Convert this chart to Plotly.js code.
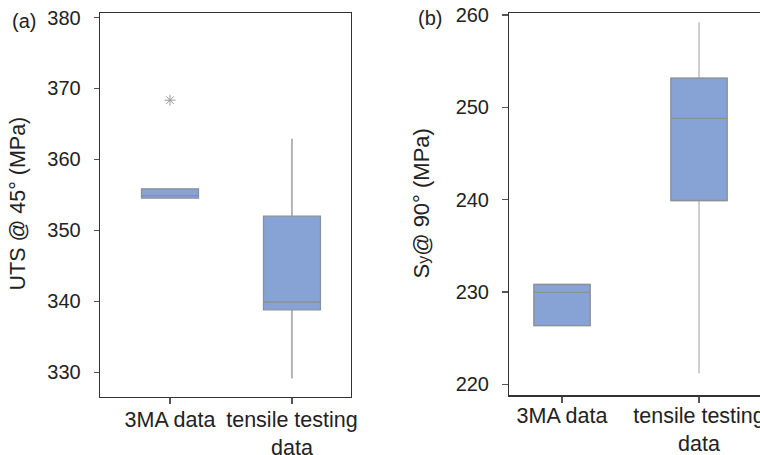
<!DOCTYPE html>
<html>
<head>
<meta charset="utf-8">
<script src="https://cdn.plot.ly/plotly-3.0.1.min.js"></script>
<style>html,body{margin:0;padding:0;background:#fff;}#chart{width:760px;height:455px;}</style>
</head>
<body>
<div id="chart"></div>
<script>
// Categories / tick labels
const categories = ['3MA data', 'tensile testing<br>data'];
const catPos = [0, 1];

// Panel (a): UTS @ 45° (MPa)
const utsQ1 = [354.55, 338.8];
const utsMedian = [354.9, 339.9];
const utsQ3 = [355.85, 352.0];
const utsLower = [354.55, 329.1];
const utsUpper = [355.85, 362.9];
const utsOutlierX = [0];
const utsOutlierY = [368.35];
const utsTicks = [330, 340, 350, 360, 370, 380];

// Panel (b): Sy @ 90° (MPa)
const syQ1 = [226.35, 239.9];
const syMedian = [229.95, 248.8];
const syQ3 = [230.8, 253.15];
const syLower = [226.35, 221.2];
const syUpper = [230.8, 259.2];
const syTicks = [220, 230, 240, 250, 260];

const FONT = 'Arial, "Liberation Sans", sans-serif';
const fill = '#87a3d6';
const boxLine = '#8a9099';

const traces = [
  {type: 'box', x: catPos, q1: utsQ1, median: utsMedian, q3: utsQ3,
   lowerfence: utsLower, upperfence: utsUpper, width: 0.467,
   fillcolor: fill, line: {color: boxLine, width: 1.3}, whiskerwidth: 0,
   boxpoints: false, xaxis: 'x', yaxis: 'y', hoverinfo: 'skip', showlegend: false},
  {type: 'scatter', mode: 'markers', x: utsOutlierX, y: utsOutlierY,
   marker: {symbol: 'asterisk-open', size: 9, color: '#999', line: {color: '#999', width: 1}},
   xaxis: 'x', yaxis: 'y', hoverinfo: 'skip', showlegend: false},
  // panel b: whiskers (lighter) then box outline
  {type: 'box', x: catPos, q1: syQ1, median: syMedian, q3: syQ3,
   lowerfence: syLower, upperfence: syUpper, width: 0.41,
   fillcolor: fill, line: {color: '#bdbdbd', width: 1.5}, whiskerwidth: 0,
   boxpoints: false, xaxis: 'x2', yaxis: 'y2', hoverinfo: 'skip', showlegend: false},
  {type: 'box', x: catPos, q1: syQ1, median: syMedian, q3: syQ3,
   lowerfence: syQ1, upperfence: syQ3, width: 0.41,
   fillcolor: fill, line: {color: boxLine, width: 1.3}, whiskerwidth: 0,
   boxpoints: false, xaxis: 'x2', yaxis: 'y2', hoverinfo: 'skip', showlegend: false}
];

const axisCommon = {
  showgrid: false, zeroline: false, showline: true, linecolor: '#333', linewidth: 1.3,
  ticks: 'outside', tickcolor: '#555', tickwidth: 1.3,
  ticklabeloverflow: 'allow',
  tickfont: {family: FONT, size: 20, color: '#222'}
};
const xTickFont = {family: FONT, size: 21.5, color: '#222'};

const layout = {
  width: 760, height: 455,
  margin: {l: 0, r: 0, t: 0, b: 0},
  paper_bgcolor: '#fff', plot_bgcolor: '#fff',
  boxmode: 'overlay',
  showlegend: false,
  xaxis: Object.assign({}, axisCommon, {
    domain: [100/760, 351/760], range: [-0.574, 1.484], anchor: 'y',
    tickvals: catPos, ticktext: categories, ticklen: 6, mirror: true, tickfont: xTickFont,
    ticklabelstandoff: -3
  }),
  yaxis: Object.assign({}, axisCommon, {
    domain: [(455-396.7)/455, (455-13.3)/455], range: [326.55, 380.6], anchor: 'x',
    tickvals: utsTicks, ticklen: 5, mirror: true, ticklabelstandoff: 9
  }),
  xaxis2: Object.assign({}, axisCommon, {
    domain: [509.3/760, 1], range: [-0.385, 1.445], anchor: 'y2',
    tickvals: catPos, ticktext: categories, ticklen: 6, mirror: true, tickfont: xTickFont,
    ticklabelstandoff: -5
  }),
  yaxis2: Object.assign({}, axisCommon, {
    domain: [(455-395.3)/455, (455-13.3)/455], range: [218.8, 260.18], anchor: 'x2',
    tickvals: syTicks, ticklen: 6, mirror: false, ticklabelstandoff: 9
  }),
  annotations: [
    {text: '(a)', xref: 'paper', yref: 'paper', x: 24/760, y: 1 - 21/455,
     xanchor: 'center', yanchor: 'middle', showarrow: false,
     font: {family: FONT, size: 20, color: '#222'}},
    {text: '(b)', xref: 'paper', yref: 'paper', x: 430/760, y: 1 - 18/455,
     xanchor: 'center', yanchor: 'middle', showarrow: false,
     font: {family: FONT, size: 20, color: '#222'}},
    {text: 'UTS @ 45° (MPa)', xref: 'paper', yref: 'paper', x: 17.5/760, y: 1 - 204/455,
     xanchor: 'center', yanchor: 'middle', textangle: -90, showarrow: false,
     font: {family: FONT, size: 21.5, color: '#222'}},
    {text: 'S<span style="font-size:16px">y</span>@ 90° (MPa)', xref: 'paper', yref: 'paper',
     x: 421/760, y: 1 - 203.5/455,
     xanchor: 'center', yanchor: 'middle', textangle: -90, showarrow: false,
     font: {family: FONT, size: 22, color: '#222'}}
  ]
};

Plotly.newPlot('chart', traces, layout, {staticPlot: true, displayModeBar: false});
</script>
</body>
</html>
